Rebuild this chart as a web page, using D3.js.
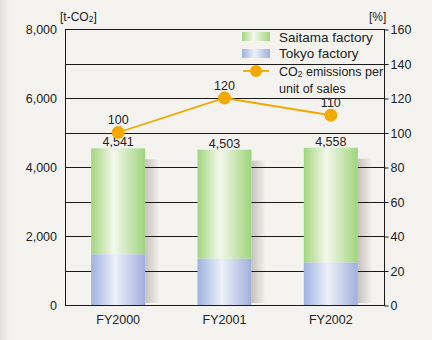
<!DOCTYPE html>
<html>
<head>
<meta charset="utf-8">
<script src="https://cdn.jsdelivr.net/npm/d3@7"></script>
<style>
  body { margin: 0; background: #f5f3ef; }
  svg { display: block; font-family: "Liberation Sans", Arial, sans-serif; }
</style>
</head>
<body>
<svg width="432" height="340"></svg>
<script>
var years = ["FY2000", "FY2001", "FY2002"];
var tokyo = [1470, 1340, 1230];
var saitamaTotal = [4541, 4503, 4558];
var intensity = [100, 120, 110];
var leftTicks = [0, 2000, 4000, 6000, 8000];
var rightTicks = [0, 20, 40, 60, 80, 100, 120, 140, 160];

var svg = d3.select("svg"),
    pLeft = 65, pRight = 384, pTop = 29, pBottom = 305;

var defs = svg.append("defs");
function grad(id, stops) {
    var g = defs.append("linearGradient").attr("id", id)
        .attr("x1", "0%").attr("x2", "100%").attr("y1", "0%").attr("y2", "0%");
    stops.forEach(function(s) {
        g.append("stop").attr("offset", s[0]).attr("stop-color", s[1]);
    });
}
grad("green", [["0%", "#a2d57e"], ["42%", "#f4f8ec"], ["100%", "#9fd47b"]]);
grad("blue", [["0%", "#9db2de"], ["45%", "#eef0f9"], ["100%", "#a0afdc"]]);
grad("shadow", [["0%", "#c6c2be"], ["35%", "#d6d2ce"], ["100%", "#f3f1ed"]]);
grad("strip", [["0%", "#e2e0dc"], ["100%", "#f5f3ef"]]);

svg.append("rect").attr("x", 0).attr("y", 0).attr("width", 10).attr("height", 340)
    .attr("fill", "url(#strip)");

var x = d3.scaleBand().domain(years).range([pLeft, pRight]);
var y = d3.scaleLinear().domain([0, 8000]).range([pBottom, pTop]);
var y2 = d3.scaleLinear().domain([0, 160]).range([pBottom, pTop]);
var barW = 54;
function bx(d) { return x(d) + (x.bandwidth() - barW) / 2; }

// shadows
svg.selectAll(".shadow").data(years).enter().append("rect")
    .attr("x", function(d) { return bx(d) + barW; })
    .attr("y", function(d, i) { return y(saitamaTotal[i]) + 11; })
    .attr("width", 14)
    .attr("height", function(d, i) { return pBottom - 2 - y(saitamaTotal[i]) - 11; })
    .attr("fill", "url(#shadow)");

// gridlines
svg.append("g").selectAll("line").data(rightTicks).enter().append("line")
    .attr("x1", pLeft).attr("x2", pRight)
    .attr("y1", function(d) { return Math.round(y2(d)) + 0.5; })
    .attr("y2", function(d) { return Math.round(y2(d)) + 0.5; })
    .attr("stroke", "#1a1a1a").attr("stroke-width", 1);

// bars
svg.selectAll(".sai").data(years).enter().append("rect")
    .attr("x", bx).attr("width", barW)
    .attr("y", function(d, i) { return y(saitamaTotal[i]); })
    .attr("height", function(d, i) { return y(tokyo[i]) - y(saitamaTotal[i]); })
    .attr("fill", "url(#green)");
svg.selectAll(".tok").data(years).enter().append("rect")
    .attr("x", bx).attr("width", barW)
    .attr("y", function(d, i) { return y(tokyo[i]); })
    .attr("height", function(d, i) { return pBottom - y(tokyo[i]); })
    .attr("fill", "url(#blue)");

// axes frame
svg.append("line").attr("x1", pLeft + 0.5).attr("x2", pLeft + 0.5).attr("y1", pTop).attr("y2", pBottom + 0.5)
    .attr("stroke", "#1a1a1a");
svg.append("line").attr("x1", pRight + 0.5).attr("x2", pRight + 0.5).attr("y1", pTop).attr("y2", pBottom + 0.5)
    .attr("stroke", "#1a1a1a");
svg.append("line").attr("x1", pLeft).attr("x2", pRight + 1).attr("y1", pBottom + 0.5).attr("y2", pBottom + 0.5)
    .attr("stroke", "#1a1a1a");

var leftAxis = svg.append("g").attr("transform", "translate(" + pLeft + ",0)")
    .call(d3.axisLeft(y).tickValues(leftTicks).tickFormat(d3.format(",")).tickSize(0).tickPadding(8));
var rightAxis = svg.append("g").attr("transform", "translate(" + (pRight + 0.5) + ",0.5)")
    .call(d3.axisRight(y2).tickValues(rightTicks).tickSize(4).tickPadding(2));
[leftAxis, rightAxis].forEach(function(a) {
    a.select(".domain").remove();
    a.selectAll("line").attr("stroke", "#1a1a1a");
    a.selectAll("text").attr("font-size", 12.5).attr("fill", "#222")
        .attr("font-family", "Liberation Sans, Arial, sans-serif");
});

svg.append("g").selectAll("text").data(years).enter().append("text")
    .attr("x", function(d) { return x(d) + x.bandwidth() / 2; })
    .attr("y", 324).attr("text-anchor", "middle").attr("font-size", 12.5).attr("fill", "#222")
    .text(function(d) { return d; });

// bar value labels
svg.append("g").selectAll("text").data(years).enter().append("text")
    .attr("x", function(d) { return x(d) + x.bandwidth() / 2; })
    .attr("y", function(d, i) { return y(saitamaTotal[i]) - 2; })
    .attr("text-anchor", "middle").attr("font-size", 12.5).attr("fill", "#222")
    .text(function(d, i) { return d3.format(",")(saitamaTotal[i]); });

// units
var u = svg.append("text").attr("x", 60).attr("y", 21).attr("font-size", 12).attr("fill", "#222");
u.append("tspan").text("[t-CO");
u.append("tspan").attr("font-size", 8.5).attr("dy", 1).text("2");
u.append("tspan").attr("dy", -1).text("]");
svg.append("text").attr("x", 369).attr("y", 21).attr("font-size", 12).attr("fill", "#222").text("[%]");

// line
var cx = function(d) { return x(d) + x.bandwidth() / 2; };
var line = d3.line().x(function(d, i) { return cx(years[i]); }).y(function(d) { return y2(d); });
svg.append("path").datum(intensity).attr("d", line)
    .attr("fill", "none").attr("stroke", "#f0a800").attr("stroke-width", 1.8);
svg.selectAll(".pt").data(intensity).enter().append("circle")
    .attr("cx", function(d, i) { return cx(years[i]); })
    .attr("cy", function(d) { return y2(d); })
    .attr("r", 6.5).attr("fill", "#f2a900");
svg.append("g").selectAll("text").data(intensity).enter().append("text")
    .attr("x", function(d, i) { return cx(years[i]); })
    .attr("y", function(d) { return y2(d) - 8.5; })
    .attr("text-anchor", "middle").attr("font-size", 12.5).attr("fill", "#222")
    .text(function(d) { return d; });

// legend
var lg = svg.append("g");
lg.append("rect").attr("x", 242).attr("y", 32).attr("width", 28).attr("height", 9).attr("fill", "url(#green)");
lg.append("rect").attr("x", 242).attr("y", 49).attr("width", 28).attr("height", 9).attr("fill", "url(#blue)");
lg.append("text").attr("x", 279).attr("y", 42).attr("font-size", 13.5).attr("fill", "#222").text("Saitama factory");
lg.append("text").attr("x", 279).attr("y", 58).attr("font-size", 13.5).attr("fill", "#222").text("Tokyo factory");
lg.append("line").attr("x1", 243).attr("x2", 269).attr("y1", 71).attr("y2", 71)
    .attr("stroke", "#f0a800").attr("stroke-width", 1.8);
lg.append("circle").attr("cx", 256).attr("cy", 71).attr("r", 6).attr("fill", "#f2a900");
var t = lg.append("text").attr("x", 279).attr("y", 76).attr("font-size", 12.5).attr("fill", "#222");
t.append("tspan").text("CO");
t.append("tspan").attr("font-size", 8.5).attr("dy", 1).text("2");
t.append("tspan").attr("dy", -1).text(" emissions per");
lg.append("text").attr("x", 279).attr("y", 93).attr("font-size", 12.5).attr("fill", "#222").text("unit of sales");
</script>
</body>
</html>
